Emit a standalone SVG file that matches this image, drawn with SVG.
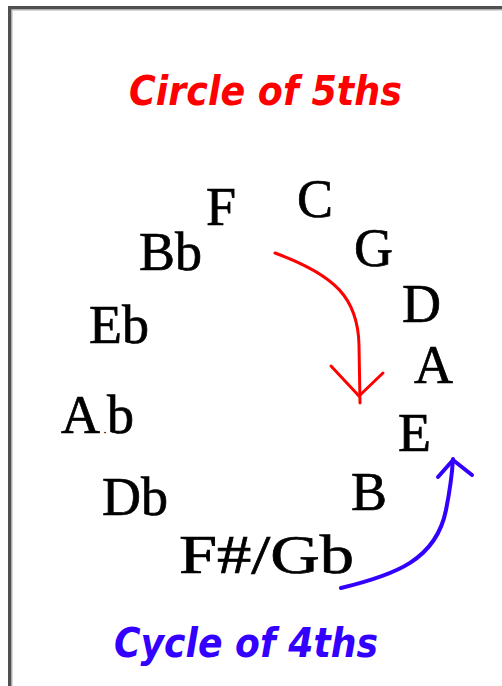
<svg xmlns="http://www.w3.org/2000/svg" width="502" height="686" viewBox="0 0 502 686">
<style>
.note{font-family:"Liberation Serif","Times New Roman",serif;font-size:54px;fill:#000;stroke:#000;stroke-width:0.7px}
.title{font-family:"DejaVu Sans",Verdana,sans-serif;font-weight:bold;font-style:italic;font-size:40px}
.arrow{fill:none;stroke-linecap:round;stroke-linejoin:round}
</style>
<rect x="0" y="0" width="502" height="686" fill="#fff"/>
<g id="frame">
<rect x="8" y="6" width="494" height="3.5" fill="#505050"/>
<rect x="8" y="6" width="3.5" height="680" fill="#505050"/>
<rect x="11.5" y="9.5" width="490.5" height="1" fill="#b4b4b4"/>
<rect x="11.5" y="9.5" width="1" height="676.5" fill="#b4b4b4"/>
</g>
<g id="title-fifths"><text class="title" x="129" y="105" fill="#ff0000" textLength="273" lengthAdjust="spacingAndGlyphs">Circle of 5ths</text></g>
<g id="title-fourths"><text class="title" x="114" y="657" fill="#3300ff" textLength="264" lengthAdjust="spacingAndGlyphs">Cycle of 4ths</text></g>
<g id="note-C"><text class="note" x="297" y="217">C</text></g>
<g id="note-G"><text class="note" x="354" y="266">G</text></g>
<g id="note-D"><text class="note" x="402" y="322">D</text></g>
<g id="note-A"><text class="note" x="414" y="383">A</text></g>
<g id="note-E"><text class="note" x="398" y="451">E</text></g>
<g id="note-B"><text class="note" x="351" y="510">B</text></g>
<g id="note-FsGb"><text class="note" x="179" y="573" textLength="175" lengthAdjust="spacingAndGlyphs">F#/Gb</text></g>
<g id="note-Db"><text class="note" x="102" y="515">Db</text></g>
<g id="note-Ab"><text class="note" x="61" y="433">A<tspan x="104" font-size="8">.</tspan><tspan x="107">b</tspan></text></g>
<g id="note-Eb"><text class="note" x="89" y="343">Eb</text></g>
<g id="note-Bb"><text class="note" x="139" y="270">Bb</text></g>
<g id="note-F"><text class="note" x="206" y="225">F</text></g>
<g id="connectors">
<g id="arrow-fifths" stroke="#ff0000" stroke-width="3">
<path class="arrow" d="M275,253 C335,275 358,298 359,345 L360,403"/>
<polyline class="arrow" points="331,366 359,396 383,373"/>
</g>
<g id="arrow-fourths" stroke="#3300ff" stroke-width="4">
<path class="arrow" d="M341,588 C395,575 436,560 446,510 C450,490 452,475 453,459"/>
<polyline class="arrow" points="438,477 453,460 472,475"/>
</g>
</g>
</svg>
